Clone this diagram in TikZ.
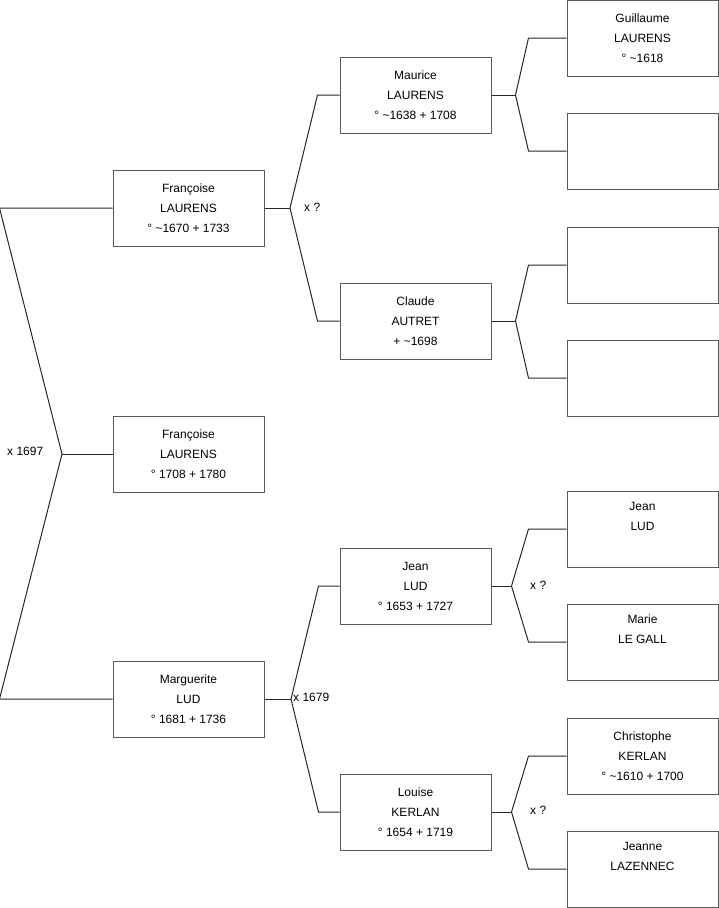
\documentclass[tikz,border=0pt]{standalone}
\usepackage{fontspec}
\setmainfont{Liberation Sans}
\usepackage{tikz}
\usetikzlibrary{calc,positioning}
\newcommand{\ca}{\textasciitilde}
\tikzset{
  person/.style={rectangle,draw=black!65,line width=1pt,fill=white,
    minimum width=151pt,minimum height=76pt,align=center,inner sep=0pt,
    font=\fontsize{12}{20}\selectfont},
  link/.style={line width=1pt,black!85},
  marr/.style={font=\fontsize{12}{14}\selectfont,inner sep=0pt}
}
\begin{document}
\begin{tikzpicture}[x=1pt,y=-1pt]
  \useasboundingbox (0,0) rectangle (719,908);
  % generation 1
  \node[person] (fl) at (188.5,208) {Françoise\\LAURENS\\° \ca1670 + 1733};
  \node[person] (fs) at (188.5,454) {Françoise\\LAURENS\\° 1708 + 1780};
  \node[person] (ml) at (188.5,699) {Marguerite\\LUD\\° 1681 + 1736};
  % generation 2
  \node[person] (mau) at (415.5,95) {Maurice\\LAURENS\\° \ca1638 + 1708};
  \node[person] (cla) at (415.5,321) {Claude\\AUTRET\\+ \ca1698};
  \node[person] (jl) at (415.5,586) {Jean\\LUD\\° 1653 + 1727};
  \node[person] (lk) at (415.5,812) {Louise\\KERLAN\\° 1654 + 1719};
  % generation 3
  \node[person] (gl) at (642.5,38) {Guillaume\\LAURENS\\° \ca1618};
  \node[person] (b1) at (642.5,151) {};
  \node[person] (b2) at (642.5,265) {};
  \node[person] (b3) at (642.5,378) {};
  \node[person] (jn) at (642.5,529) {Jean\\LUD\\\strut};
  \node[person] (mg) at (642.5,642) {Marie\\LE GALL\\\strut};
  \node[person] (ck) at (642.5,756) {Christophe\\KERLAN\\° \ca1610 + 1700};
  \node[person] (jz) at (642.5,869) {Jeanne\\LAZENNEC\\\strut};

  % forks
  \coordinate (j1) at (62,454);
  \draw[link] (fl.west) -- ([xshift=-113]fl.west) -- (j1)
    -- ([xshift=-113]ml.west) -- (ml.west);
  \draw[link] (j1) -- (fs.west);
  \node[marr,anchor=west] (m1) at (7,451) {x 1697};

  \coordinate (j2) at (290,208);
  \draw[link] (fl.east) -- (j2);
  \draw[link] (mau.west) -- ([xshift=-22]mau.west) -- (j2)
    -- ([xshift=-22]cla.west) -- (cla.west);
  \node[marr,anchor=west] (m2) at (304,207) {x ?};

  \coordinate (j3) at (291,699);
  \draw[link] (ml.east) -- (j3);
  \draw[link] (jl.west) -- ([xshift=-21]jl.west) -- (j3)
    -- ([xshift=-21]lk.west) -- (lk.west);
  \node[marr,anchor=west] (m3) at (293,697) {x 1679};

  \foreach \p/\a/\b/\d in {mau/gl/b1/24, cla/b2/b3/24, jl/jn/mg/20, lk/ck/jz/20} {
    \coordinate (v\p) at ([xshift=\d]\p.east);
    \draw[link] (\p.east) -- (v\p);
    \draw[link] (\a.west) -- ([xshift=-38]\a.west) -- (v\p)
      -- ([xshift=-38]\b.west) -- (\b.west);
  }
  \node[marr,anchor=west] (m4) at (530,585) {x ?};
  \node[marr,anchor=west] (m5) at (530,810) {x ?};
\end{tikzpicture}
\end{document}
